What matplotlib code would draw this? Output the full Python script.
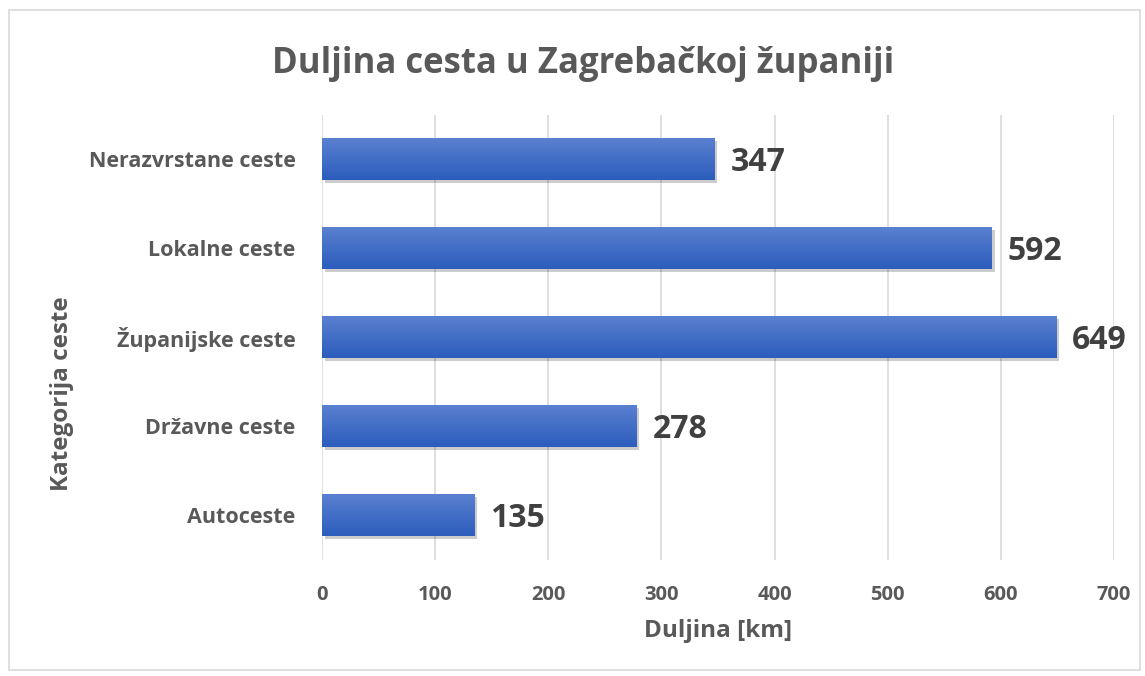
"""Duljina cesta u Zagrebačkoj županiji - horizontal bar chart."""

import matplotlib
matplotlib.use("Agg")
import matplotlib.pyplot as plt
import matplotlib.patheffects as pe
from matplotlib.colors import LinearSegmentedColormap
from matplotlib.patches import Rectangle
import numpy as np

categories = ["Autoceste", "Državne ceste", "Županijske ceste",
              "Lokalne ceste", "Nerazvrstane ceste"]
lengths = [135, 278, 649, 592, 347]
xticks = [0, 100, 200, 300, 400, 500, 600, 700]

plt.rcParams["font.family"] = ["Open Sans", "DejaVu Sans"]
grey = "#595959"
dark = "#404040"
bar_h = 0.47

fig = plt.figure(figsize=(11.45, 6.76), dpi=100)
ax = fig.add_axes([0.2812, 0.1716, 0.6917, 0.6583])

# figure frame
fig.patches.append(Rectangle((0.008, 0.009), 0.988, 0.976, transform=fig.transFigure,
                             fill=False, edgecolor="#d9d9d9", linewidth=1.2))

cmap = LinearSegmentedColormap.from_list("blu", ["#2c5dbd", "#5a80d0"])
grad = np.linspace(0, 1, 64).reshape(-1, 1)

bars = ax.barh(range(len(categories)), lengths, height=bar_h, color="#3a68c6",
               zorder=2)
for b in bars:
    b.set_path_effects([pe.SimplePatchShadow(offset=(2, -2), shadow_rgbFace="#000000",
                                             alpha=0.2), pe.Normal()])
    x0, y0 = b.get_x(), b.get_y()
    w, h = b.get_width(), b.get_height()
    ax.imshow(grad, cmap=cmap, aspect="auto", origin="lower",
              extent=(x0, x0 + w, y0, y0 + h), zorder=3)

for i, v in enumerate(lengths):
    ax.text(v + 14, i - 0.03, str(v), va="center", ha="left", fontsize=23,
            fontweight="bold", color=dark)

ax.set_xlim(0, 700)
ax.set_ylim(-0.5, len(categories) - 0.5)
ax.set_xticks(xticks)
ax.set_yticks(range(len(categories)))
ax.set_yticklabels(categories)
ax.grid(axis="x", color="#d9d9d9", linewidth=1.2, zorder=0)
ax.set_axisbelow(True)
for s in ax.spines.values():
    s.set_visible(False)
ax.tick_params(length=0, labelcolor=grey)
ax.tick_params(axis="x", pad=18, labelsize=14.5)
ax.tick_params(axis="y", pad=19, labelsize=15.5)
for lab in ax.get_xticklabels() + ax.get_yticklabels():
    lab.set_fontweight("bold")

ax.set_xlabel("Duljina [km]", fontsize=17.5, fontweight="bold", color=grey, labelpad=10)
fig.text(62 / 1145, 1 - 394 / 676, "Kategorija ceste", rotation=90, ha="center",
         va="center", fontsize=17.5, fontweight="bold", color=grey)
fig.text(0.509, 0.906, "Duljina cesta u Zagrebačkoj županiji", ha="center",
         va="center", fontsize=25, fontweight="bold", color=grey)

fig.savefig("out.png", dpi=100)
